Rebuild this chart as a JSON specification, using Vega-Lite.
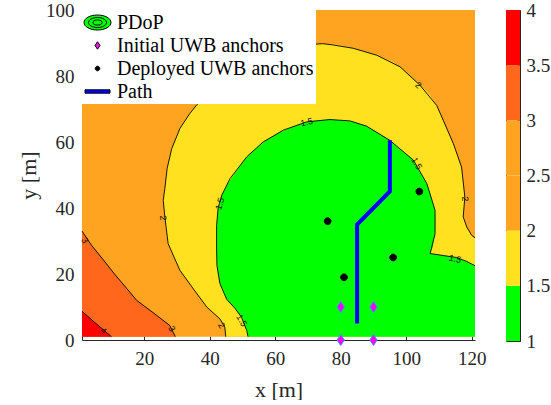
{
  "$schema": "https://vega.github.io/schema/vega-lite/v6.json",
  "background": "white",
  "padding": {"left": 17, "top": 0, "right": 0, "bottom": 0},
  "config": {"view": {"stroke": null}},
  "datasets": {
    "base": [{"x": 1, "x2": 121, "y": 1, "y2": 100, "lv": 2.25}],
    "r3": [
      {"x": 1, "y": 33.0, "lv": 3.25}, {"x": 3.9, "y": 28.7, "lv": 3.25}, {"x": 7.5, "y": 24.3, "lv": 3.25},
      {"x": 11.0, "y": 19.9, "lv": 3.25}, {"x": 14.6, "y": 15.7, "lv": 3.25}, {"x": 17.7, "y": 12.0, "lv": 3.25},
      {"x": 22.7, "y": 8.3, "lv": 3.25}, {"x": 27.8, "y": 4.4, "lv": 3.25}, {"x": 29.5, "y": 1, "lv": 3.25}
    ],
    "r4": [{"x": 1, "y": 8.7, "lv": 3.75}, {"x": 5.5, "y": 4.8, "lv": 3.75}, {"x": 10, "y": 1, "lv": 3.75}],
    "yel": [
      {"y": 1, "x": 44.9, "x2": 121, "lv": 1.75}, {"y": 3.9, "x": 44.6, "x2": 121, "lv": 1.75},
      {"y": 6.4, "x": 43.1, "x2": 121, "lv": 1.75}, {"y": 10, "x": 39.1, "x2": 121, "lv": 1.75},
      {"y": 15.5, "x": 35.0, "x2": 121, "lv": 1.75}, {"y": 21.1, "x": 30.9, "x2": 121, "lv": 1.75},
      {"y": 29.2, "x": 27.3, "x2": 121, "lv": 1.75}, {"y": 31, "x": 27.0, "x2": 121, "lv": 1.75},
      {"y": 31.7, "x": 26.9, "x2": 120.0, "lv": 1.75}, {"y": 34.2, "x": 26.6, "x2": 118.5, "lv": 1.75},
      {"y": 37.3, "x": 26.3, "x2": 117.4, "lv": 1.75}, {"y": 42.3, "x": 25.8, "x2": 117.8, "lv": 1.75},
      {"y": 45.9, "x": 26.3, "x2": 117.6, "lv": 1.75}, {"y": 52.0, "x": 27.0, "x2": 116.9, "lv": 1.75},
      {"y": 58.0, "x": 28.4, "x2": 114.9, "lv": 1.75}, {"y": 64.1, "x": 30.9, "x2": 112.3, "lv": 1.75},
      {"y": 68.6, "x": 33.9, "x2": 110.4, "lv": 1.75}, {"y": 71.1, "x": 35.9, "x2": 109.3, "lv": 1.75},
      {"y": 75.1, "x": 40.1, "x2": 106.6, "lv": 1.75}, {"y": 77.2, "x": 42.9, "x2": 104.2, "lv": 1.75},
      {"y": 79.7, "x": 46.2, "x2": 101.5, "lv": 1.75}, {"y": 82.8, "x": 51.0, "x2": 98.1, "lv": 1.75},
      {"y": 84.5, "x": 54.9, "x2": 95.5, "lv": 1.75}, {"y": 86.3, "x": 59.0, "x2": 91.0, "lv": 1.75},
      {"y": 88.4, "x": 64.5, "x2": 83.8, "lv": 1.75}, {"y": 89.2, "x": 68.0, "x2": 80.5, "lv": 1.75},
      {"y": 89.6, "x": 71.6, "x2": 77.7, "lv": 1.75}, {"y": 89.8, "x": 74.5, "x2": 74.6, "lv": 1.75}
    ],
    "grn": [
      {"y": 1, "x": 51.7, "x2": 121, "lv": 1.25}, {"y": 2.9, "x": 51.3, "x2": 121, "lv": 1.25},
      {"y": 6.9, "x": 49.7, "x2": 121, "lv": 1.25}, {"y": 9.6, "x": 47.7, "x2": 121, "lv": 1.25},
      {"y": 12.3, "x": 45.2, "x2": 121, "lv": 1.25}, {"y": 17.1, "x": 43.1, "x2": 121, "lv": 1.25},
      {"y": 22.5, "x": 42.2, "x2": 121, "lv": 1.25}, {"y": 23.8, "x": 42.2, "x2": 118.5, "lv": 1.25},
      {"y": 25.0, "x": 42.15, "x2": 115.4, "lv": 1.25}, {"y": 25.6, "x": 42.1, "x2": 111.3, "lv": 1.25},
      {"y": 26.2, "x": 42.1, "x2": 107.3, "lv": 1.25}, {"y": 28.2, "x": 42.1, "x2": 108.1, "lv": 1.25},
      {"y": 32.2, "x": 42.1, "x2": 108.8, "lv": 1.25}, {"y": 35.5, "x": 42.2, "x2": 108.9, "lv": 1.25},
      {"y": 39.3, "x": 42.5, "x2": 108.8, "lv": 1.25}, {"y": 43.9, "x": 43.7, "x2": 107.5, "lv": 1.25},
      {"y": 47.4, "x": 45.5, "x2": 106.3, "lv": 1.25}, {"y": 51.0, "x": 48.0, "x2": 104.2, "lv": 1.25},
      {"y": 54.5, "x": 50.5, "x2": 102.2, "lv": 1.25}, {"y": 57.5, "x": 53.5, "x2": 98.6, "lv": 1.25},
      {"y": 60.5, "x": 57.2, "x2": 95.0, "lv": 1.25}, {"y": 63.0, "x": 61.5, "x2": 90.9, "lv": 1.25},
      {"y": 64.8, "x": 65.9, "x2": 87.9, "lv": 1.25}, {"y": 66.1, "x": 69.6, "x2": 83.8, "lv": 1.25},
      {"y": 66.5, "x": 72.5, "x2": 81.5, "lv": 1.25}, {"y": 66.8, "x": 76.7, "x2": 77.0, "lv": 1.25}
    ],
    "cl": [
      {"c": "c4", "x": 1, "y": 8.7}, {"c": "c4", "x": 5.5, "y": 4.8}, {"c": "c4", "x": 10, "y": 1},
      {"c": "c3", "x": 1, "y": 33.0}, {"c": "c3", "x": 3.9, "y": 28.7}, {"c": "c3", "x": 7.5, "y": 24.3},
      {"c": "c3", "x": 11.0, "y": 19.9}, {"c": "c3", "x": 14.6, "y": 15.7}, {"c": "c3", "x": 17.7, "y": 12.0},
      {"c": "c3", "x": 22.7, "y": 8.3}, {"c": "c3", "x": 27.8, "y": 4.4}, {"c": "c3", "x": 29.5, "y": 1},
      {"c": "c2", "x": 44.9, "y": 1}, {"c": "c2", "x": 44.6, "y": 3.9}, {"c": "c2", "x": 43.1, "y": 6.4},
      {"c": "c2", "x": 39.1, "y": 10}, {"c": "c2", "x": 35.0, "y": 15.5}, {"c": "c2", "x": 30.9, "y": 21.1},
      {"c": "c2", "x": 27.3, "y": 29.2}, {"c": "c2", "x": 26.3, "y": 37.3}, {"c": "c2", "x": 25.8, "y": 42.3},
      {"c": "c2", "x": 26.3, "y": 45.9}, {"c": "c2", "x": 27.0, "y": 52.0}, {"c": "c2", "x": 28.4, "y": 58.0},
      {"c": "c2", "x": 30.9, "y": 64.1}, {"c": "c2", "x": 33.9, "y": 68.6}, {"c": "c2", "x": 36.0, "y": 71.2},
      {"c": "c2", "x": 40.1, "y": 75.1}, {"c": "c2", "x": 46.2, "y": 79.7}, {"c": "c2", "x": 53.8, "y": 83.8},
      {"c": "c2", "x": 61.5, "y": 87.3}, {"c": "c2", "x": 67.6, "y": 89.1}, {"c": "c2", "x": 71.6, "y": 89.6},
      {"c": "c2", "x": 74.5, "y": 89.8}, {"c": "c2", "x": 77.7, "y": 89.4}, {"c": "c2", "x": 83.8, "y": 88.4},
      {"c": "c2", "x": 91.0, "y": 86.3}, {"c": "c2", "x": 98.1, "y": 82.8}, {"c": "c2", "x": 104.2, "y": 77.2},
      {"c": "c2", "x": 109.3, "y": 71.1}, {"c": "c2", "x": 111.3, "y": 66.6}, {"c": "c2", "x": 114.4, "y": 59.5},
      {"c": "c2", "x": 116.9, "y": 52.4}, {"c": "c2", "x": 117.9, "y": 43.3}, {"c": "c2", "x": 117.4, "y": 37.3},
      {"c": "c2", "x": 118.5, "y": 34.2}, {"c": "c2", "x": 120.0, "y": 31.7}, {"c": "c2", "x": 121, "y": 31.0},
      {"c": "c15", "x": 51.7, "y": 1}, {"c": "c15", "x": 51.3, "y": 2.9}, {"c": "c15", "x": 49.7, "y": 6.9},
      {"c": "c15", "x": 47.7, "y": 9.6}, {"c": "c15", "x": 45.2, "y": 12.3}, {"c": "c15", "x": 43.1, "y": 17.1},
      {"c": "c15", "x": 42.2, "y": 22.6}, {"c": "c15", "x": 42.1, "y": 28.2}, {"c": "c15", "x": 42.1, "y": 34.7},
      {"c": "c15", "x": 42.6, "y": 40.2}, {"c": "c15", "x": 43.7, "y": 43.9}, {"c": "c15", "x": 46.2, "y": 48.9},
      {"c": "c15", "x": 51.3, "y": 55.5}, {"c": "c15", "x": 56.3, "y": 60.0}, {"c": "c15", "x": 62.5, "y": 63.6},
      {"c": "c15", "x": 69.6, "y": 66.1}, {"c": "c15", "x": 76.7, "y": 66.8}, {"c": "c15", "x": 82.8, "y": 66.4},
      {"c": "c15", "x": 87.9, "y": 64.8}, {"c": "c15", "x": 95.0, "y": 60.5}, {"c": "c15", "x": 102.2, "y": 54.5},
      {"c": "c15", "x": 106.3, "y": 47.4}, {"c": "c15", "x": 108.8, "y": 39.3}, {"c": "c15", "x": 108.8, "y": 32.2},
      {"c": "c15", "x": 107.3, "y": 26.2}, {"c": "c15", "x": 111.3, "y": 25.6}, {"c": "c15", "x": 115.4, "y": 25.0},
      {"c": "c15", "x": 118.5, "y": 23.8}, {"c": "c15", "x": 121, "y": 22.5}
    ],
    "path": [{"x": 85, "y": 5}, {"x": 85, "y": 35}, {"x": 95, "y": 45}, {"x": 95, "y": 60.5}],
    "anchors": [
      {"kind": "Initial UWB anchors", "x": 80, "y": 0}, {"kind": "Initial UWB anchors", "x": 90, "y": 0},
      {"kind": "Initial UWB anchors", "x": 80, "y": 10}, {"kind": "Initial UWB anchors", "x": 90, "y": 10},
      {"kind": "Deployed UWB anchors", "x": 76, "y": 36}, {"kind": "Deployed UWB anchors", "x": 104, "y": 45},
      {"kind": "Deployed UWB anchors", "x": 96, "y": 25}, {"kind": "Deployed UWB anchors", "x": 81, "y": 19}
    ],
    "cb": [
      {"lo": 1, "hi": 1.5, "lv": 1.25}, {"lo": 1.5, "hi": 2, "lv": 1.75}, {"lo": 2, "hi": 2.5, "lv": 2.25},
      {"lo": 2.5, "hi": 3, "lv": 2.75}, {"lo": 3, "hi": 3.5, "lv": 3.25}, {"lo": 3.5, "hi": 4, "lv": 3.75}
    ]
  },
  "spacing": 19,
  "resolve": {
    "scale": {"color": "independent", "shape": "independent"},
    "legend": {"color": "independent", "shape": "independent"}
  },
  "hconcat": [
    {
      "width": 393,
      "height": 330,
      "encoding": {
        "x": {
          "field": "x", "type": "quantitative", "stack": null,
          "scale": {"domain": [1, 121], "nice": false, "zero": false},
          "axis": {
            "values": [20, 40, 60, 80, 100, 120], "title": "x [m]", "grid": false,
            "tickSize": -4, "tickColor": "#262626", "domainColor": "#262626",
            "labelFont": "Liberation Serif", "labelFontSize": 19, "labelColor": "#262626",
            "labelPadding": 13, "labelFlush": false,
            "titleFont": "Liberation Serif", "titleFontSize": 22, "titleFontWeight": "normal",
            "titleColor": "#262626", "titlePadding": 11
          }
        },
        "y": {
          "field": "y", "type": "quantitative", "stack": null,
          "scale": {"domain": [0, 100], "nice": false, "zero": false},
          "axis": {
            "values": [0, 20, 40, 60, 80, 100], "title": "y [m]", "grid": false, "ticks": false,
            "domainColor": "#262626",
            "labelFont": "Liberation Serif", "labelFontSize": 19, "labelColor": "#262626",
            "labelPadding": 8,
            "titleFont": "Liberation Serif", "titleFontSize": 22, "titleFontWeight": "normal",
            "titleColor": "#262626", "titlePadding": 5
          }
        }
      },
      "layer": [
        {
          "data": {"name": "base"},
          "mark": {"type": "rect"},
          "encoding": {
            "x2": {"field": "x2"}, "y2": {"field": "y2"},
            "fill": {"field": "lv", "type": "quantitative", "legend": null,
              "scale": {"type": "threshold", "domain": [1.5, 2, 2.5, 3, 3.5],
                "range": ["#00FF00", "#FFE120", "#FFA420", "#FFA420", "#FF671C", "#FF0000"]}}
          }
        },
        {
          "data": {"name": "r3"},
          "mark": {"type": "area", "orient": "vertical"},
          "encoding": {
            "y2": {"datum": 1}, "order": {"value": null},
            "fill": {"field": "lv", "type": "quantitative", "legend": null,
              "scale": {"type": "threshold", "domain": [1.5, 2, 2.5, 3, 3.5],
                "range": ["#00FF00", "#FFE120", "#FFA420", "#FFA420", "#FF671C", "#FF0000"]}}
          }
        },
        {
          "data": {"name": "r4"},
          "mark": {"type": "area", "orient": "vertical"},
          "encoding": {
            "y2": {"datum": 1}, "order": {"value": null},
            "fill": {"field": "lv", "type": "quantitative", "legend": null,
              "scale": {"type": "threshold", "domain": [1.5, 2, 2.5, 3, 3.5],
                "range": ["#00FF00", "#FFE120", "#FFA420", "#FFA420", "#FF671C", "#FF0000"]}}
          }
        },
        {
          "data": {"name": "yel"},
          "mark": {"type": "area", "orient": "horizontal"},
          "encoding": {
            "x2": {"field": "x2"}, "order": {"value": null},
            "fill": {"field": "lv", "type": "quantitative", "legend": null,
              "scale": {"type": "threshold", "domain": [1.5, 2, 2.5, 3, 3.5],
                "range": ["#00FF00", "#FFE120", "#FFA420", "#FFA420", "#FF671C", "#FF0000"]}}
          }
        },
        {
          "data": {"name": "grn"},
          "mark": {"type": "area", "orient": "horizontal"},
          "encoding": {
            "x2": {"field": "x2"}, "order": {"value": null},
            "fill": {"field": "lv", "type": "quantitative", "legend": null,
              "scale": {"type": "threshold", "domain": [1.5, 2, 2.5, 3, 3.5],
                "range": ["#00FF00", "#FFE120", "#FFA420", "#FFA420", "#FF671C", "#FF0000"]}}
          }
        },
        {
          "data": {"name": "cl"},
          "mark": {"type": "line", "color": "#000000", "strokeWidth": 0.9},
          "encoding": {"detail": {"field": "c", "type": "nominal"}, "order": {"value": null}}
        },
        {
          "data": {"values": [{"t": "4", "x": 7.5, "y": 2.8}, {"t": "2", "x": 103.7, "y": 77.2}]},
          "mark": {"type": "text", "angle": 42, "fontSize": 9, "font": "Liberation Sans", "color": "#111111"},
          "encoding": {"text": {"field": "t"}}
        },
        {
          "data": {"values": [
            {"t": "3", "x": 28.4, "y": 3.4}, {"t": "3", "x": 1.9, "y": 30.2}, {"t": "2", "x": 43.6, "y": 4.4},
            {"t": "1.5", "x": 49.8, "y": 5.9}, {"t": "1.5", "x": 103.2, "y": 53.5}]},
          "mark": {"type": "text", "angle": 60, "fontSize": 9, "font": "Liberation Sans", "color": "#111111"},
          "encoding": {"text": {"field": "t"}}
        },
        {
          "data": {"values": [{"t": "2", "x": 25.8, "y": 37}, {"t": "2", "x": 118, "y": 42.8}]},
          "mark": {"type": "text", "angle": 87, "fontSize": 9, "font": "Liberation Sans", "color": "#111111"},
          "encoding": {"text": {"field": "t"}}
        },
        {
          "data": {"values": [{"t": "1.5", "x": 43.1, "y": 41.3}]},
          "mark": {"type": "text", "angle": -73, "fontSize": 9, "font": "Liberation Sans", "color": "#111111"},
          "encoding": {"text": {"field": "t"}}
        },
        {
          "data": {"values": [{"t": "1.5", "x": 69.6, "y": 66}]},
          "mark": {"type": "text", "angle": -13, "fontSize": 9, "font": "Liberation Sans", "color": "#111111"},
          "encoding": {"text": {"field": "t"}}
        },
        {
          "data": {"values": [{"t": "1.5", "x": 114.9, "y": 24.6}]},
          "mark": {"type": "text", "angle": 14, "fontSize": 9, "font": "Liberation Sans", "color": "#111111"},
          "encoding": {"text": {"field": "t"}}
        },
        {
          "data": {"name": "path"},
          "mark": {"type": "line", "color": "#0000FF", "strokeWidth": 4, "strokeCap": "butt"},
          "encoding": {"order": {"value": null}}
        },
        {
          "data": {"name": "anchors"},
          "mark": {"type": "point", "filled": true, "size": 860, "opacity": 1, "strokeWidth": 1},
          "encoding": {
            "color": {
              "field": "kind", "type": "nominal",
              "scale": {"domain": ["PDoP", "Initial UWB anchors", "Deployed UWB anchors", "Path"],
                "range": ["#00FF00", "#FF00FF", "#000000", "#0000FF"]},
              "legend": {
                "title": null, "orient": "top-left", "offset": 0, "padding": 2,
                "fillColor": "white", "symbolSize": 400, "symbolOffset": 3, "labelOffset": 9,
                "rowPadding": 2, "labelFont": "Liberation Serif", "labelFontSize": 20,
                "labelColor": "black", "labelLimit": 400, "zindex": 1, "symbolStrokeWidth": 1,
                "encode": {
                  "symbols": {
                    "update": {
                      "fill": {"signal": "datum.value === 'PDoP' ? {gradient: 'radial', x1: 0.5, y1: 0.5, r1: 0, x2: 0.5, y2: 0.5, r2: 0.5, stops: [{offset: 0, color: '#FF0000'}, {offset: 0.25, color: '#FF0000'}, {offset: 0.25, color: '#FFA420'}, {offset: 0.47, color: '#FFA420'}, {offset: 0.47, color: '#00FF00'}, {offset: 1, color: '#00FF00'}]} : datum.value === 'Initial UWB anchors' ? '#FF00FF' : datum.value === 'Deployed UWB anchors' ? '#000000' : '#0000FF'"}
                    }
                  }
                }
              }
            },
            "shape": {
              "field": "kind", "type": "nominal", "legend": null,
              "scale": {"domain": ["PDoP", "Initial UWB anchors", "Deployed UWB anchors", "Path"],
                "range": [
                  "M-1.35,0A1.35,0.75,0,1,1,1.35,0A1.35,0.75,0,1,1,-1.35,0ZM-0.9,0A0.9,0.5,0,1,1,0.9,0A0.9,0.5,0,1,1,-0.9,0ZM-0.47,0A0.47,0.26,0,1,1,0.47,0A0.47,0.26,0,1,1,-0.47,0Z",
                  "M0,-0.37L0.25,0L0,0.37L-0.25,0Z",
                  "M-0.23,0A0.23,0.23,0,1,1,0.23,0A0.23,0.23,0,1,1,-0.23,0Z",
                  "M-1.25,-0.17L1.25,-0.17L1.25,0.17L-1.25,0.17Z"
                ]}
            },
            "stroke": {
              "condition": [
                {"test": "datum.kind === 'Initial UWB anchors'", "value": "#3d8fff"},
                {"test": "datum.kind === 'Path'", "value": "#0000FF"}
              ],
              "value": "#000000"
            }
          }
        }
      ]
    },
    {
      "width": 14,
      "height": 331,
      "view": {"stroke": "#262626", "strokeWidth": 1},
      "data": {"name": "cb"},
      "mark": {"type": "rect"},
      "encoding": {
        "y": {
          "field": "lo", "type": "quantitative",
          "scale": {"domain": [1, 4], "nice": false, "zero": false},
          "axis": {
            "orient": "right", "values": [1, 1.5, 2, 2.5, 3, 3.5, 4], "format": "~g", "title": null,
            "domain": false, "grid": false, "tickSize": -3, "tickColor": "#262626",
            "labelFont": "Liberation Serif", "labelFontSize": 19, "labelColor": "#262626", "labelPadding": 9
          }
        },
        "y2": {"field": "hi"},
        "fill": {"field": "lv", "type": "quantitative", "legend": null,
          "scale": {"type": "threshold", "domain": [1.5, 2, 2.5, 3, 3.5],
            "range": ["#00FF00", "#FFE120", "#FFA420", "#FFA420", "#FF671C", "#FF0000"]}}
      }
    }
  ]
}
